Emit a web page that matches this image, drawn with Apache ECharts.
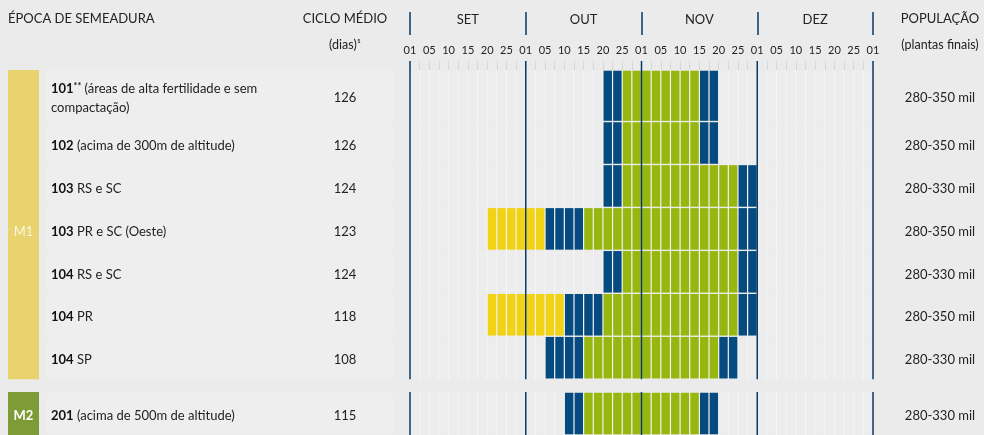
<!DOCTYPE html>
<html>
<head>
<meta charset="utf-8">
<script src="https://cdn.jsdelivr.net/npm/echarts@6/dist/echarts.min.js"></script>
<style>
html, body { margin: 0; padding: 0; background: #ebebeb; }
#chart { width: 984px; height: 435px; }
</style>
</head>
<body>
<div id="chart"></div>
<script>
// meses e dias (cada mes = 12 meias-quinzenas)
const months = ['SET', 'OUT', 'NOV', 'DEZ'];
const dayLabels = ['01', '05', '10', '15', '20', '25'];

// linhas da tabela
const groups = ['M1', 'M1', 'M1', 'M1', 'M1', 'M1', 'M1', 'M2'];
const varieties = ['101', '102', '103', '103', '104', '104', '104', '201'];
const marks = ['**', '', '', '', '', '', '', ''];
const notes = [
    '(áreas de alta fertilidade e sem\ncompactação)',
    '(acima de 300m de altitude)',
    'RS e SC',
    'PR e SC (Oeste)',
    'RS e SC',
    'PR',
    'SP',
    '(acima de 500m de altitude)'
];
const cycleDays = [126, 126, 124, 123, 124, 118, 108, 115];
const population = ['280-350 mil', '280-350 mil', '280-330 mil', '280-350 mil',
    '280-330 mil', '280-350 mil', '280-330 mil', '280-330 mil'];

// janelas de semeadura, em celulas (0 = 01 SET)
const yellowCells = [null, null, null, [8, 13], null, [8, 15], null, null];
const blueEarly = [[20, 21], [20, 21], [20, 21], [14, 17], [20, 21], [16, 19], [14, 17], [16, 17]];
const greenCells = [[22, 29], [22, 29], [22, 33], [18, 33], [22, 33], [20, 33], [18, 31], [18, 29]];
const blueLate = [[30, 31], [30, 31], [34, 35], [34, 35], [34, 35], [34, 35], [32, 33], [30, 31]];

const cellColors = ['#f2d214', '#054b7f', '#97b60f'];
const groupColors = { M1: '#e8d36e', M2: '#7d9c35' };
const lineColor = '#0b3a66';
const font = 'Lato, "Noto Sans", sans-serif';

// altura das linhas (em unidades do eixo y)
const groupGap = 0.3;
const rowEdges = [];
let yy = 0;
for (let i = 0; i < groups.length; i++) {
    if (i > 0 && groups[i] !== groups[i - 1]) yy += groupGap;
    const top = yy;
    yy += notes[i].indexOf('\n') >= 0 ? 1.2 : 1;
    rowEdges.push([top, yy]);
}
const yMax = yy;
const nCells = months.length * 12;
const textShift = 2.5;

// celulas coloridas
const cellData = [];
[[yellowCells, 0], [blueEarly, 1], [greenCells, 2], [blueLate, 1]].forEach(function (pair) {
    pair[0].forEach(function (seg, r) {
        if (!seg) return;
        for (let c = seg[0]; c <= seg[1]; c++) cellData.push([c, r, pair[1]]);
    });
});

// grupos M1 / M2
const groupData = [];
groups.forEach(function (g, i) {
    if (i === 0 || g !== groups[i - 1]) groupData.push([0, i, i]);
    else groupData[groupData.length - 1][2] = i;
});

const rowData = groups.map(function (g, i) { return [0, i]; });

function renderCell(params, api) {
    const c = api.value(0), r = api.value(1), t = api.value(2);
    const p0 = api.coord([c, rowEdges[r][0]]);
    const p1 = api.coord([c + 1, rowEdges[r][1]]);
    return {
        type: 'rect',
        shape: { x: p0[0] + 0.6, y: p0[1] + 0.7, width: p1[0] - p0[0] - 1.2, height: p1[1] - p0[1] - 1.4 },
        style: { fill: cellColors[t] }
    };
}

function renderRow(params, api) {
    const r = api.value(1);
    const top = api.coord([0, rowEdges[r][0]]);
    const bot = api.coord([nCells, rowEdges[r][1]]);
    const yc = (top[1] + bot[1]) / 2 + textShift;
    const children = [];
    children.push({
        type: 'rect',
        shape: { x: 47, y: top[1] + 0.5, width: 346, height: bot[1] - top[1] - 1 },
        style: { fill: 'rgba(255,255,255,0.16)' }
    });
    children.push({
        type: 'rect',
        shape: { x: top[0], y: top[1] + 0.5, width: bot[0] - top[0], height: bot[1] - top[1] - 1 },
        style: { fill: 'rgba(255,255,255,0.12)' }
    });
    for (let c = 1; c < nCells; c++) {
        const x = api.coord([c, 0])[0];
        children.push({
            type: 'line',
            shape: { x1: x, y1: top[1], x2: x, y2: bot[1] },
            style: { stroke: 'rgba(255,255,255,0.5)', lineWidth: 1 }
        });
    }
    const lines = notes[r].split('\n');
    let txt = '{b|' + varieties[r] + '}' + (marks[r] ? '{s|' + marks[r] + '}' : '') + ' {n|' + lines[0] + '}';
    for (let k = 1; k < lines.length; k++) txt += '\n{n|' + lines[k] + '}';
    children.push({
        type: 'text',
        style: {
            x: 51, y: yc, text: txt, verticalAlign: 'middle', align: 'left',
            rich: {
                b: { fontFamily: font, fontWeight: 'bold', fontSize: 13, fill: '#111', lineHeight: 19 },
                s: { fontFamily: font, fontWeight: 'bold', fontSize: 9, fill: '#111', lineHeight: 19, padding: [0, 0, 6, 0] },
                n: { fontFamily: font, fontSize: 13, fill: '#222', lineHeight: 19 }
            }
        }
    });
    children.push({
        type: 'text',
        style: { x: 345, y: yc, text: String(cycleDays[r]), align: 'center', verticalAlign: 'middle',
            fontFamily: font, fontSize: 13, fill: '#222' }
    });
    children.push({
        type: 'text',
        style: { x: 940, y: yc, text: population[r], align: 'center', verticalAlign: 'middle',
            fontFamily: font, fontSize: 13, fill: '#222' }
    });
    return { type: 'group', children: children };
}

function renderGroup(params, api) {
    const first = api.value(1), last = api.value(2);
    const top = api.coord([0, rowEdges[first][0]]);
    const bot = api.coord([nCells, rowEdges[last][1]]);
    const mid = Math.floor((first + last) / 2);
    const midY = (api.coord([0, rowEdges[mid][0]])[1] + api.coord([0, rowEdges[mid][1]])[1]) / 2 + textShift;
    const g = groups[first];
    const children = [{
        type: 'rect',
        shape: { x: 8, y: top[1], width: 31, height: bot[1] - top[1] },
        style: { fill: groupColors[g] }
    }, {
        type: 'text',
        style: { x: 23.5, y: midY, text: g, align: 'center', verticalAlign: 'middle',
            fontFamily: font, fontSize: 13, fontWeight: g === 'M2' ? 'bold' : 'normal',
            fill: g === 'M2' ? '#ffffff' : 'rgba(255,255,255,0.8)' }
    }];
    // linhas dos meses
    const lineTop = first === 0 ? top[1] - 9 : top[1];
    for (let m = 0; m <= months.length; m++) {
        const x = api.coord([m * 12, 0])[0];
        children.push({
            type: 'line',
            shape: { x1: x, y1: lineTop, x2: x, y2: bot[1] },
            style: { stroke: lineColor, lineWidth: 1.5 }
        });
    }
    return { type: 'group', children: children };
}

const chart = echarts.init(document.getElementById('chart'));

const option = {
    backgroundColor: '#ebebeb',
    animation: false,
    grid: { left: 410, right: 111, top: 70, height: 370 },
    xAxis: [{
        type: 'value', position: 'top', min: 0, max: nCells, interval: 2,
        axisLine: { show: false },
        splitLine: { show: false },
        axisTick: { show: true, length: 9, lineStyle: { color: '#d6d6d6' } },
        minorTick: { show: true, splitNumber: 2, length: 9, lineStyle: { color: '#d6d6d6' } },
        axisLabel: {
            margin: 14, fontFamily: font, fontSize: 11, color: '#222',
            formatter: function (v) { return dayLabels[Math.round(v / 2) % 6]; }
        }
    }, {
        type: 'category', position: 'top', offset: 35, data: months, boundaryGap: true,
        axisLine: { show: false },
        axisTick: { show: true, length: 23, lineStyle: { color: lineColor, width: 1.5 } },
        axisLabel: { margin: 9, fontFamily: font, fontSize: 13, color: '#222' }
    }],
    yAxis: {
        type: 'value', inverse: true, min: 0, max: yMax, show: false
    },
    graphic: [
        { type: 'text', left: 8, top: 12, style: { text: 'ÉPOCA DE SEMEADURA', fontFamily: font, fontSize: 13, fill: '#222' } },
        { type: 'text', x: 345, y: 19, style: { text: 'CICLO MÉDIO', align: 'center', verticalAlign: 'middle', fontFamily: font, fontSize: 13, fill: '#222' } },
        { type: 'text', x: 345, y: 45, style: { text: '(dias)¹', align: 'center', verticalAlign: 'middle', fontFamily: font, fontSize: 12.5, fill: '#222' } },
        { type: 'text', x: 940, y: 19, style: { text: 'POPULAÇÃO', align: 'center', verticalAlign: 'middle', fontFamily: font, fontSize: 13, fill: '#222' } },
        { type: 'text', x: 940, y: 45, style: { text: '(plantas finais)', align: 'center', verticalAlign: 'middle', fontFamily: font, fontSize: 12.5, fill: '#222' } }
    ],
    series: [{
        type: 'custom', name: 'linhas', renderItem: renderRow, data: rowData, z: 1, silent: true
    }, {
        type: 'custom', name: 'semeadura', renderItem: renderCell, data: cellData, z: 2
    }, {
        type: 'custom', name: 'grupos', renderItem: renderGroup, data: groupData, z: 3, silent: true
    }]
};

chart.setOption(option);
</script>
</body>
</html>
